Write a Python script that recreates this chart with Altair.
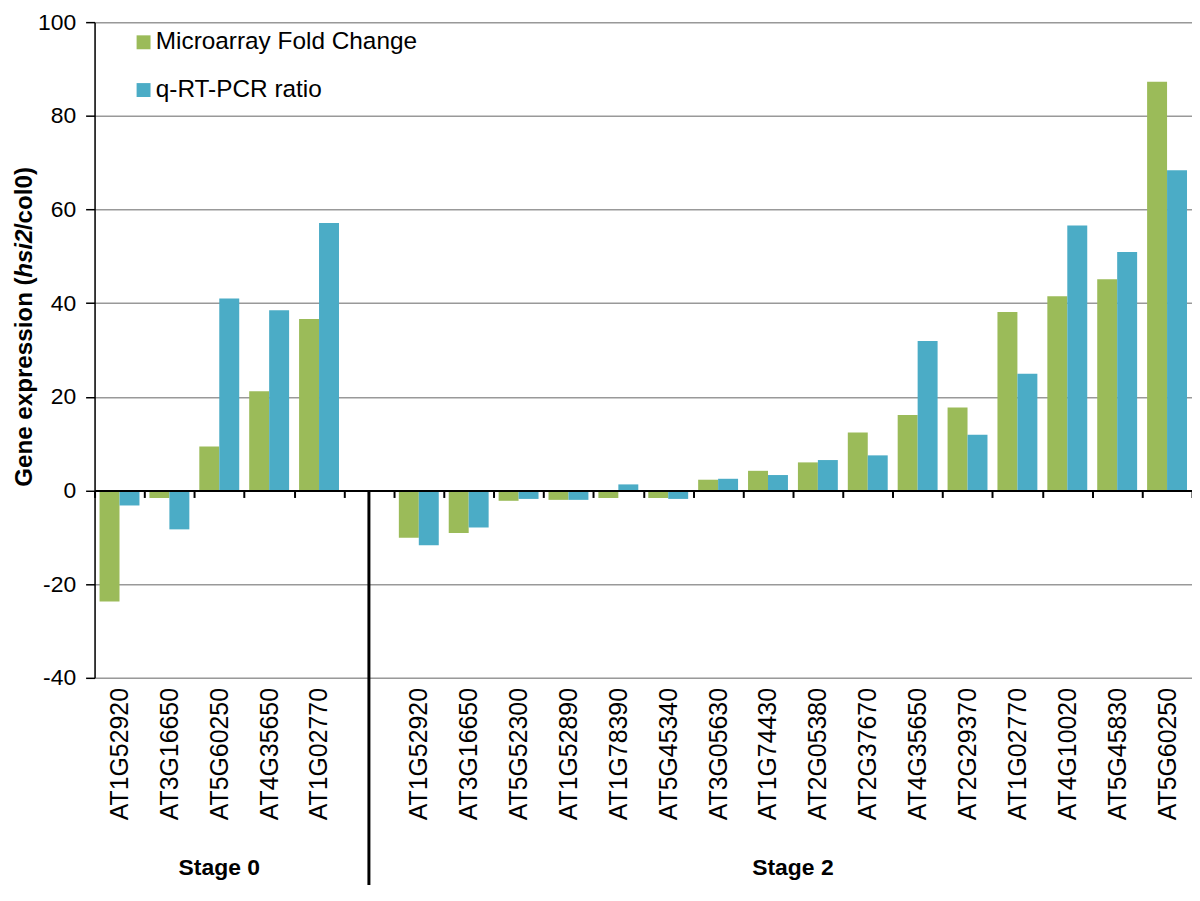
import altair as alt
import pandas as pd

# ---------------- data ----------------
series_names = ["Microarray Fold Change", "q-RT-PCR ratio"]
series_colors = ["#9BBB59", "#4BACC6"]

stage0_genes = ["AT1G52920", "AT3G16650", "AT5G60250", "AT4G35650", "AT1G02770"]
stage0_micro = [-23.7, -1.6, 9.4, 21.2, 36.6]
stage0_qpcr = [-3.2, -8.3, 41.0, 38.5, 57.1]

stage2_genes = ["AT1G52920", "AT3G16650", "AT5G52300", "AT1G52890", "AT1G78390",
                "AT5G45340", "AT3G05630", "AT1G74430", "AT2G05380", "AT2G37670",
                "AT4G35650", "AT2G29370", "AT1G02770", "AT4G10020", "AT5G45830",
                "AT5G60250"]
stage2_micro = [-10.1, -9.1, -2.2, -2.0, -1.6, -1.6, 2.3, 4.2, 6.0, 12.4,
                16.1, 17.7, 38.1, 41.5, 45.1, 87.3]
stage2_qpcr = [-11.7, -7.9, -1.8, -2.0, 1.3, -1.8, 2.5, 3.3, 6.5, 7.5,
               31.9, 11.9, 24.9, 56.6, 50.9, 68.4]

stage_names = ["Stage 0", "Stage 2"]
y_ticks = [-40, -20, 0, 20, 40, 60, 80, 100]
y_title_parts = ["Gene expression (", "hsi2", "/col0)"]

rows = []
keys = []
for g, m, q in zip(stage0_genes, stage0_micro, stage0_qpcr):
    k = stage_names[0] + "|" + g
    keys.append(k)
    rows.append({"key": k, "series": series_names[0], "value": m})
    rows.append({"key": k, "series": series_names[1], "value": q})
keys.append("gap")
for g, m, q in zip(stage2_genes, stage2_micro, stage2_qpcr):
    k = stage_names[1] + "|" + g
    keys.append(k)
    rows.append({"key": k, "series": series_names[0], "value": m})
    rows.append({"key": k, "series": series_names[1], "value": q})
df = pd.DataFrame(rows)

# ---------------- layout ----------------
W, H = 1103, 659
FONT = "Liberation Sans"
ZERO_OFFSET = -H * 40 / 140

x_scale = alt.Scale(domain=keys, paddingInner=0, paddingOuter=0)
y_scale = alt.Scale(domain=[-40, 100], nice=False, zero=False)

x_axis = alt.Axis(
    title=None,
    labelExpr="indexof(datum.label, '|') >= 0 ? split(datum.label, '|')[1] : ''",
    labelAngle=-90, labelAlign="right", labelBaseline="middle",
    labelFontSize=25, labelFont=FONT, labelColor="black",
    labelPadding=191, labelOverlap=False,
    offset=ZERO_OFFSET, tickBand="extent", tickSize=7, tickColor="black",
    tickWidth=2, domainColor="black", domainWidth=2, grid=False, zindex=1,
)
y_axis = alt.Axis(
    title=None, values=y_ticks,
    labelExpr="datum.value < 0 ? '-' + abs(datum.value) : '' + datum.value",
    labelFontSize=23, labelFont=FONT,
    labelColor="black", labelPadding=10, tickSize=9, tickColor="black",
    tickWidth=1.5, domainColor="black", domainWidth=1.5,
    gridColor="#999999", gridWidth=1.5, zindex=0,
)

bars = alt.Chart(df).mark_bar().encode(
    x=alt.X("key:N", scale=x_scale, axis=x_axis, sort=keys),
    xOffset=alt.XOffset("series:N", scale=alt.Scale(domain=series_names,
                                                     paddingOuter=0.25,
                                                     paddingInner=0)),
    y=alt.Y("value:Q", scale=y_scale, axis=y_axis),
    color=alt.Color(
        "series:N",
        scale=alt.Scale(domain=series_names, range=series_colors),
        legend=alt.Legend(
            title=None, orient="none", legendX=37, legendY=8,
            symbolType="square", symbolSize=196, symbolStrokeWidth=0,
            symbolOpacity=1, labelFontSize=24.5, labelFont=FONT, labelLimit=0,
            labelColor="black", rowPadding=23, labelOffset=0, padding=0,
        ),
    ),
)

sep = alt.Chart(pd.DataFrame({"key": ["gap"], "base": [0]})).mark_rule(
    color="black", strokeWidth=3
).encode(
    x=alt.X("key:N", scale=x_scale, axis=x_axis, sort=keys),
    y=alt.Y("base:Q", scale=y_scale, axis=y_axis),
    y2=alt.value(H + 230),
)

lab0 = alt.Chart(pd.DataFrame({"key": [keys[2]], "label": [stage_names[0]]})).mark_text(
    fontSize=23, fontWeight="bold", font=FONT, color="black", baseline="middle"
).encode(
    x=alt.X("key:N", scale=x_scale, axis=x_axis, sort=keys),
    y=alt.value(850),
    text="label:N",
)
lab2 = alt.Chart(pd.DataFrame({"key": [keys[6 + 8]], "label": [stage_names[1]]})).mark_text(
    fontSize=23, fontWeight="bold", font=FONT, color="black", baseline="middle"
).encode(
    x=alt.X("key:N", scale=x_scale, axis=x_axis, sort=keys, bandPosition=0),
    y=alt.value(850),
    text="label:N",
)

one = alt.Data(values=[{}])
title_layers = []
starts = [467, 467 - 210, 467 - 210 - 48]
styles = ["normal", "italic", "normal"]
for part, yy, st in zip(y_title_parts, starts, styles):
    title_layers.append(
        alt.Chart(one).mark_text(
            angle=270, align="left", baseline="middle", fontSize=24.3,
            fontWeight="bold", fontStyle=st, font=FONT, color="black",
        ).encode(x=alt.value(-70), y=alt.value(yy), text=alt.value(part))
    )

chart = alt.layer(bars, sep, lab0, lab2, *title_layers).properties(
    width=W, height=H,
    autosize=alt.AutoSizeParams(type="none"),
    padding={"left": 87, "top": 12, "right": 0, "bottom": 206},
).configure_view(stroke=None).configure(background="white")

chart.save("out.html", embed_options={"renderer": "svg", "actions": False})
